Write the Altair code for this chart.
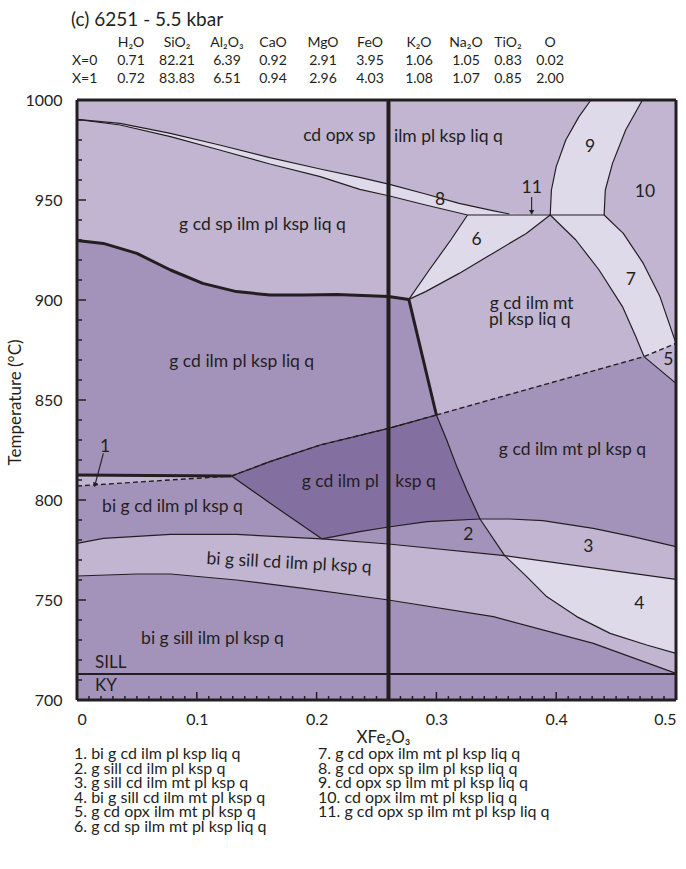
import altair as alt
import pandas as pd

FONT = "Lato"
INK = "#231f20"
LIGHT = "#c1b5d2"
MEDIUM = "#a393ba"
DARK = "#8470a0"
PALE = "#dedaea"

PLOT_W, PLOT_H = 599, 600

# ---------- composition header ----------
title_text = "(c) 6251 - 5.5 kbar"
oxides = ["H₂O", "SiO₂", "Al₂O₃", "CaO", "MgO", "FeO", "K₂O", "Na₂O", "TiO₂", "O"]
comp_x0 = ["0.71", "82.21", "6.39", "0.92", "2.91", "3.95", "1.06", "1.05", "0.83", "0.02"]
comp_x1 = ["0.72", "83.83", "6.51", "0.94", "2.96", "4.03", "1.08", "1.07", "0.85", "2.00"]

# ---------- invariant points (XFe2O3, T °C) ----------
A = (0.326, 942.5)
B = (0.395, 942.5)
C = (0.440, 942.5)
D = (0.277, 900.3)
E = (0.4733, 871.7)
F = (0.500, 878.3)
G = (0.500, 858.3)
H = (0.129, 812.0)
I = (0.300, 842.5)
J = (0.3364, 790.5)
K = (0.2043, 780.6)
L = (0.357, 772.2)

# ---------- phase boundaries ----------
band8_upper = [(0.0, 990.3), (0.036, 988.3), (0.078, 983.3), (0.119, 977.5), (0.161, 971.2),
               (0.203, 965.5), (0.236, 961.3), (0.261, 957.8), (0.291, 953.0), (0.319, 948.3),
               (0.347, 944.7), (0.361, 943.0)]
band8_lower = [(0.0, 990.3), (0.036, 987.5), (0.078, 981.7), (0.119, 975.0), (0.161, 968.0),
               (0.203, 961.7), (0.236, 955.3), (0.261, 952.0), (0.291, 947.5), A]
triple_line = [A, B, C]
liq_top = [(0.0, 929.7), (0.022, 928.3), (0.05, 923.3), (0.078, 915.0), (0.105, 908.3),
           (0.133, 904.2), (0.161, 902.5), (0.189, 902.5), (0.217, 902.8), (0.26, 901.7), D]
liq_edge = [D, I]
r6_left = [A, (0.312, 930.0), (0.294, 915.0), D]
r6_base = [B, (0.375, 933.3), (0.347, 923.3), (0.319, 913.3), (0.291, 904.2), D]
r9_left = [B, (0.396, 955.0), (0.400, 966.7), (0.408, 980.0), (0.419, 991.7), (0.429, 1000.0)]
r9_right = [C, (0.441, 955.0), (0.447, 968.3), (0.458, 985.0), (0.472, 1000.0)]
r7_left = [B, (0.4164, 930.0), (0.4358, 915.0), (0.4553, 896.7), (0.4664, 881.7), E]
r7_right = [C, (0.456, 933.3), (0.4727, 918.3), (0.4866, 901.7), F]
r5_base = [E, G]
melt_out = [I, E, F]
melt_mid = [H, (0.161, 819.2), (0.203, 827.5), (0.26, 835.8), I]
r1_top = [(0.0, 812.5), (0.06, 812.3), H]
r1_base = [(0.0, 807.0), H]
hk = [H, (0.161, 798.5), K]
kj = [K, (0.236, 784.2), (0.26, 786.5), (0.292, 789.2), J, (0.3614, 790.5), (0.389, 789.7),
      (0.431, 785.8), (0.464, 781.7), (0.5, 776.7)]
ij = [I, (0.3086, 830.0), (0.317, 816.7), (0.3253, 805.0), J]
jl = [J, L]
r4_edge = [L, (0.3754, 761.7), (0.392, 751.7), (0.4171, 741.7), (0.445, 733.3), (0.4755, 727.5),
           (0.5, 723.3)]
sill_top = [(0.0, 778.3), (0.022, 780.8), (0.078, 782.8), (0.133, 782.8), K, (0.26, 778.0), L,
            (0.5, 760.3)]
sill_base = [(0.0, 762.0), (0.05, 763.0), (0.078, 763.0), (0.133, 760.0), (0.189, 755.8),
             (0.26, 750.0), (0.3475, 741.7), (0.431, 728.3), (0.5, 713.3)]
sill_ky = [(0.0, 713.0), (0.5, 713.0)]
section_x = 0.26

# ---------- field labels ----------
field_labels = [
    ("cd opx sp", 0.219, 982.0),
    ("ilm pl ksp liq q", 0.310, 981.7),
    ("g cd sp ilm pl ksp liq q", 0.1548, 937.5),
    ("g cd ilm pl ksp liq q", 0.1375, 869.2),
    ("g cd ilm mt", 0.3795, 898.0),
    ("pl ksp liq q", 0.378, 890.0),
    ("g cd ilm mt pl ksp q", 0.4136, 825.0),
    ("g cd ilm pl", 0.2198, 809.2),
    ("ksp q", 0.2826, 809.2),
    ("bi g cd ilm pl ksp q", 0.0797, 796.3),
    ("bi g sill ilm pl ksp q", 0.1131, 730.3),
    ("1", 0.0234, 826.7), ("2", 0.3267, 782.5), ("3", 0.4268, 776.3), ("4", 0.4694, 748.0),
    ("5", 0.4936, 870.0), ("6", 0.3336, 930.0), ("7", 0.4622, 910.0), ("8", 0.303, 950.0),
    ("9", 0.4282, 976.7), ("10", 0.4741, 954.2), ("11", 0.3795, 955.8),
]
tilted_label = ("bi g sill cd ilm pl ksp q", 0.177, 768.3)
side_labels = [("SILL", 0.015, 718.7), ("KY", 0.015, 707.0)]
arrow_1 = [(0.022, 823.3), (0.015, 807.5)]
arrow_11 = [(0.3795, 951.5), (0.3795, 943.8)]

legend_left = ["1. bi g cd ilm pl ksp liq q", "2. g sill cd ilm pl ksp q",
               "3. g sill cd ilm mt pl ksp q", "4. bi g sill cd ilm mt pl ksp q",
               "5. g cd opx ilm mt pl ksp q", "6. g cd sp ilm mt pl ksp liq q"]
legend_right = ["7. g cd opx ilm mt pl ksp liq q", "8. g cd opx sp ilm pl ksp liq q",
                "9. cd opx sp ilm mt pl ksp liq q", "10. cd opx ilm mt pl ksp liq q",
                "11. g cd opx sp ilm mt pl ksp liq q"]


def rev(c):
    return list(reversed(c))


def frame(points):
    return pd.DataFrame({"x": [p[0] for p in points], "t": [p[1] for p in points],
                         "i": list(range(len(points)))})


x_scale = alt.Scale(domain=[0, 0.5], nice=False, zero=False)
y_scale = alt.Scale(domain=[700, 1000], nice=False, zero=False)
x_axis = alt.Axis(values=[0, 0.1, 0.2, 0.3, 0.4, 0.5], format="~g", ticks=False, domain=False,
                  grid=False, labelFontSize=16, labelPadding=11, labelFont=FONT, labelColor=INK,
                  title="XFe₂O₃", titleFont=FONT, titleFontSize=17, titleFontWeight="normal",
                  titleColor=INK, titleX=306, titleY=37, titleBaseline="middle")
y_axis = alt.Axis(values=[700, 750, 800, 850, 900, 950, 1000], format="d", ticks=False,
                  domain=False, grid=False, labelFontSize=16, labelPadding=15, labelFont=FONT,
                  labelColor=INK, title="Temperature (°C)", titleFont=FONT, titleFontSize=17,
                  titleFontWeight="normal", titleColor=INK, titleX=-62, titleY=302,
                  titleAngle=270, titleAlign="center", titleBaseline="middle")


def enc(chart, **extra):
    return chart.encode(x=alt.X("x:Q", scale=x_scale, axis=x_axis),
                        y=alt.Y("t:Q", scale=y_scale, axis=y_axis), **extra)


def field(points, color):
    return enc(alt.Chart(frame(points)).mark_line(fill=color, stroke=color, strokeWidth=0.5),
               order="i:Q")


def boundary(points, width=1.2, dash=None):
    kw = dict(color=INK, strokeWidth=width, strokeJoin="round")
    if dash:
        kw["strokeDash"] = dash
    return enc(alt.Chart(frame(points)).mark_line(**kw), order="i:Q")


layers = []

# stability fields (background is the light field)
layers.append(field([(0, 700), (0, 1000), (0.5, 1000), (0.5, 700)], LIGHT))
layers.append(field(liq_top + [I, E, G, (0.5, 700.0), (0.0, 700.0)], MEDIUM))
layers.append(field(melt_mid + ij[1:] + rev(kj[:5])[1:] + rev(hk)[1:], DARK))
layers.append(field(r1_top + rev(r1_base)[1:], LIGHT))
layers.append(field(sill_top[:7] + r4_edge[1:] + rev(sill_base), LIGHT))
layers.append(field(kj[4:] + rev(sill_top[6:]), LIGHT))
layers.append(field(sill_top[6:] + rev(r4_edge), PALE))
layers.append(field(r7_left + rev(r7_right), PALE))
layers.append(field([A, B] + r6_base[1:] + rev(r6_left)[1:], PALE))
layers.append(field(r9_left + rev(r9_right), PALE))
layers.append(field(band8_upper + rev(band8_lower), PALE))
layers.append(field([(0.352, 943.3), B, (0.352, 942.5)], PALE))

# thin boundaries
for curve in [band8_upper, band8_lower, triple_line, r6_left, r6_base, r9_left, r9_right,
              r7_left, r7_right, r5_base, ij, jl, r4_edge, kj, hk, sill_top, sill_base,
              melt_mid]:
    layers.append(boundary(curve))
# dashed boundaries
for curve in [melt_out, melt_mid, r1_base]:
    layers.append(boundary(curve, width=1.4, dash=[5, 3]))
# heavy boundaries
for curve in [liq_top, liq_edge, r1_top]:
    layers.append(boundary(curve, width=3))
layers.append(boundary(sill_ky, width=2))

# bulk-composition section
layers.append(alt.Chart(pd.DataFrame({"x": [section_x]})).mark_rule(color=INK, strokeWidth=4)
              .encode(x=alt.X("x:Q", scale=x_scale, axis=x_axis)))

# inward ticks
x_major = [0, 0.1, 0.2, 0.3, 0.4, 0.5]
x_minor = [round(k * 0.01, 2) for k in range(51) if k % 10]
y_major = [700, 750, 800, 850, 900, 950, 1000]
y_minor = [t for t in range(700, 1001, 10) if t % 50]
for vals, ln in [(x_major, 8), (x_minor, 4)]:
    layers.append(alt.Chart(pd.DataFrame({"x": vals})).mark_rule(color=INK, strokeWidth=1.5)
                  .encode(x=alt.X("x:Q", scale=x_scale, axis=x_axis),
                          y=alt.value(PLOT_H), y2=alt.value(PLOT_H - ln)))
for vals, ln in [(y_major, 9), (y_minor, 5)]:
    layers.append(alt.Chart(pd.DataFrame({"t": vals})).mark_rule(color=INK, strokeWidth=1.5)
                  .encode(y=alt.Y("t:Q", scale=y_scale, axis=y_axis),
                          x=alt.value(0), x2=alt.value(ln)))

# frame
layers.append(alt.Chart().mark_rule(color=INK, strokeWidth=3)
              .encode(x=alt.value(0), x2=alt.value(PLOT_W), y=alt.value(0)))
layers.append(alt.Chart().mark_rule(color=INK, strokeWidth=3)
              .encode(x=alt.value(0), x2=alt.value(PLOT_W), y=alt.value(PLOT_H)))
layers.append(alt.Chart().mark_rule(color=INK, strokeWidth=3)
              .encode(x=alt.value(0), y=alt.value(0), y2=alt.value(PLOT_H)))
layers.append(alt.Chart().mark_rule(color=INK, strokeWidth=3)
              .encode(x=alt.value(PLOT_W), y=alt.value(0), y2=alt.value(PLOT_H)))

# arrows to the narrow fields
for stem, ang in [(arrow_1, 15), (arrow_11, 0)]:
    layers.append(boundary(stem, width=1.1))
    layers.append(enc(alt.Chart(frame(stem[1:])).mark_point(shape="triangle-down", filled=True,
                                                            size=28, color=INK, opacity=1,
                                                            angle=ang)))

# labels
lab_df = pd.DataFrame(field_labels, columns=["label", "x", "t"])
layers.append(enc(alt.Chart(lab_df).mark_text(font=FONT, fontSize=17.5, color=INK),
                  text="label:N"))
layers.append(enc(alt.Chart(pd.DataFrame([tilted_label], columns=["label", "x", "t"]))
                  .mark_text(font=FONT, fontSize=17.5, color=INK, angle=3), text="label:N"))
layers.append(enc(alt.Chart(pd.DataFrame(side_labels, columns=["label", "x", "t"]))
                  .mark_text(font=FONT, fontSize=17, color=INK, align="left"), text="label:N"))

# header: sample name and bulk compositions
layers.append(alt.Chart().mark_text(font=FONT, fontSize=19, color=INK, align="left",
                                    baseline="middle", text=title_text)
              .encode(x=alt.value(-6), y=alt.value(-80)))
layers.append(alt.Chart().mark_text(font=FONT, fontSize=14, color=INK, align="left",
                                    baseline="middle", lineBreak="\n", lineHeight=18,
                                    text="X=0\nX=1")
              .encode(x=alt.value(-5), y=alt.value(-39)))
col_centers = [54, 100, 150, 196, 246, 293, 342, 389, 431, 473]
for ox, v0, v1, cx in zip(oxides, comp_x0, comp_x1, col_centers):
    layers.append(alt.Chart().mark_text(font=FONT, fontSize=14, color=INK, align="center",
                                        baseline="middle", lineBreak="\n", lineHeight=18,
                                        text=f"{ox}\n{v0}\n{v1}")
                  .encode(x=alt.value(cx), y=alt.value(-57)))

# numbered field list
for lines, lx in [(legend_left, -3), (legend_right, 241)]:
    layers.append(alt.Chart().mark_text(font=FONT, fontSize=16, color=INK, align="left",
                                        baseline="top", lineBreak="\n", lineHeight=14.6,
                                        text="\n".join(lines))
                  .encode(x=alt.value(lx), y=alt.value(646)))

chart = alt.layer(*layers).properties(
    width=PLOT_W, height=PLOT_H,
    autosize=alt.AutoSizeParams(type="none"),
    padding={"left": 77, "top": 100, "right": 10, "bottom": 169},
).configure_view(stroke=None).configure(background="white")

chart.save("out.html", embed_options={"renderer": "svg", "actions": False})
